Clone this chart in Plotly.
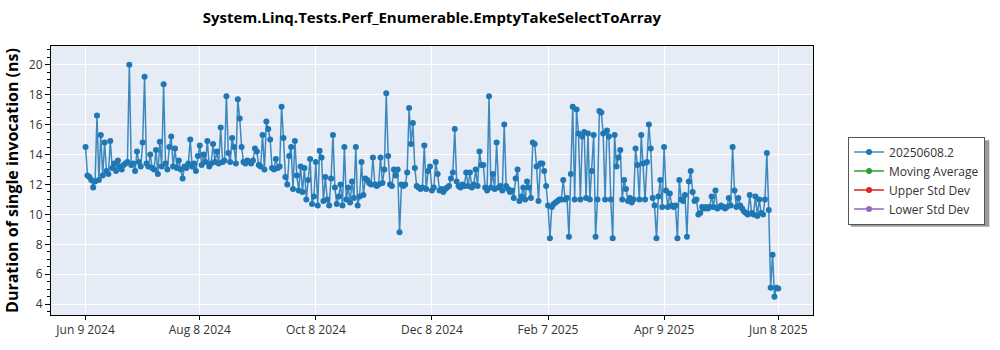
import pandas as pd
import plotly.graph_objects as go

# Daily benchmark results (ns per invocation), one list per month
series_name = "20250608.2"
start_date = "2024-06-09"

jun24 = [14.5, 12.6, 12.5, 12.3, 11.8, 12.2, 16.6, 12.3, 15.3, 12.6, 14.8, 12.9, 12.7, 14.9, 13.1, 13.4,
         12.9, 13.6, 13.2, 13.0, 13.3, 13.4]
jul24 = [13.5, 20.0, 13.3, 13.4, 12.9, 14.2, 13.5, 13.2, 14.8, 19.2, 13.4, 13.2, 14.0, 13.1, 13.0, 14.3,
         12.7, 14.85, 13.2, 18.7, 13.4, 13.0, 14.5, 15.2, 13.2, 14.4, 13.1, 13.6, 13.0, 12.4, 13.2]
aug24 = [13.1, 13.4, 15.0, 13.2, 13.4, 12.9, 13.9, 14.6, 13.3, 14.0, 13.5, 14.9, 13.2, 13.4, 14.7, 13.5,
         14.2, 13.4, 15.8, 13.5, 13.6, 17.9, 14.1, 13.5, 15.1, 14.5, 13.4, 17.7, 16.4, 14.5, 13.5]
sep24 = [13.4, 13.6, 13.5, 13.4, 13.6, 14.4, 14.2, 13.3, 13.2, 15.3, 13.0, 16.2, 15.7, 15.0, 13.1, 13.0,
         13.7, 13.1, 13.2, 17.2, 15.1, 12.5, 12.0, 13.9, 14.5, 11.7, 14.9, 12.6, 11.6, 13.2]
oct24 = [11.5, 13.1, 11.0, 12.3, 13.7, 10.7, 11.2, 13.5, 10.6, 14.25, 13.8, 10.9, 12.5, 11.0, 10.6, 12.4,
         15.3, 11.8, 10.7, 11.2, 12.0, 10.6, 14.5, 11.0, 11.8, 10.8, 12.2, 11.1, 14.5, 10.6, 11.2]
nov24 = [13.5, 11.3, 12.4, 12.3, 12.1, 12.0, 13.8, 12.0, 11.9, 12.0, 13.8, 12.1, 13.0, 18.1, 13.9, 12.0,
         11.9, 13.0, 12.6, 13.0, 8.8, 12.0, 11.9, 12.0, 12.8, 17.1, 14.7, 16.1, 13.1, 11.9]
dec24 = [11.8, 11.7, 11.8, 14.6, 11.7, 12.9, 13.2, 11.6, 11.8, 13.5, 12.7, 11.6, 11.7, 11.5, 11.7, 11.8,
         11.9, 12.4, 12.8, 15.7, 12.2, 11.9, 11.8, 12.0, 11.9, 12.8, 11.9, 12.8, 11.8, 12.0, 13.0]
jan25 = [11.9, 14.2, 13.3, 13.3, 11.8, 11.6, 17.9, 11.8, 12.7, 11.7, 14.8, 11.8, 11.9, 11.6, 16.0, 11.9,
         11.7, 11.5, 11.6, 11.1, 12.4, 13.0, 10.9, 11.2, 11.8, 11.0, 12.2, 11.8, 11.1, 14.8, 14.7]
feb25 = [13.2, 10.9, 13.4, 13.4, 12.9, 11.9, 10.6, 8.4, 10.5, 10.7, 10.8, 10.9, 11.0, 11.0, 12.3, 11.0,
         11.1, 8.5, 12.7, 17.2, 11.0, 17.0, 15.4, 11.0, 15.2, 15.5, 11.1, 15.4]
mar25 = [11.0, 12.9, 15.3, 8.5, 11.0, 16.9, 16.8, 15.4, 11.0, 15.6, 15.2, 11.0, 8.4, 15.3, 13.2, 13.8,
         14.3, 11.0, 12.3, 11.7, 10.9, 11.1, 10.8, 11.0, 14.4, 13.3, 11.0, 15.3, 13.4, 11.0, 13.5]
apr25 = [16.0, 14.4, 11.1, 10.6, 8.4, 11.2, 12.3, 10.5, 14.5, 11.6, 10.5, 11.4, 10.6, 10.5, 10.6, 8.4,
         12.3, 11.0, 10.9, 11.3, 8.5, 12.2, 12.9, 11.5, 10.9, 11.0, 10.0, 10.1, 10.5, 10.4]
may25 = [10.5, 10.4, 10.5, 11.2, 10.5, 11.6, 10.4, 10.5, 10.6, 10.5, 10.4, 10.5, 11.1, 10.6, 14.5, 11.6,
         10.5, 11.1, 10.6, 10.4, 10.2, 10.1, 10.0, 11.3, 10.1, 10.0, 11.2, 9.9, 11.0, 10.1, 10.0]
jun25 = [11.0, 14.1, 10.3, 5.1, 7.3, 4.5, 5.1, 5.05]

durations = (jun24 + jul24 + aug24 + sep24 + oct24 + nov24 + dec24
             + jan25 + feb25 + mar25 + apr25 + may25 + jun25)
run_dates = pd.date_range(start_date, periods=len(durations), freq="D")

tick_dates = ["2024-06-09", "2024-08-08", "2024-10-08", "2024-12-08",
              "2025-02-07", "2025-04-09", "2025-06-08"]
tick_labels = ["Jun 9 2024", "Aug 8 2024", "Oct 8 2024", "Dec 8 2024",
               "Feb 7 2025", "Apr 9 2025", "Jun 8 2025"]

stat_series = [("Moving Average", "#2ca02c"),
               ("Upper Std Dev", "#d62728"),
               ("Lower Std Dev", "#9467bd")]

fig = go.Figure()
fig.add_trace(go.Scatter(
    x=run_dates, y=durations, mode="lines+markers", name=series_name,
    line=dict(color="rgba(31,119,180,0.85)", width=1.5),
    marker=dict(color="#1f77b4", size=6),
))
# statistics series carry no values yet; a single empty point keeps them in the legend
for name, color in stat_series:
    fig.add_trace(go.Scatter(
        x=[run_dates[0]], y=[None], mode="lines+markers", name=name,
        line=dict(color=color, width=1.5),
        marker=dict(color=color, size=6),
    ))

fig.update_layout(
    width=1000, height=350,
    margin=dict(l=48, r=187, t=46, b=30),
    paper_bgcolor="white", plot_bgcolor="#E5ECF6",
    font=dict(family="Open Sans", size=12, color="#333"),
    title=dict(
        text="<b>System.Linq.Tests.Perf_Enumerable.EmptyTakeSelectToArray</b>",
        x=0.5, xref="paper", xanchor="center",
        y=1 - 18 / 350, yref="container", yanchor="middle",
        font=dict(size=15, color="black"),
    ),
    legend=dict(
        x=1.046, xanchor="left", y=0.5, yanchor="middle",
        bordercolor="#555", borderwidth=1, bgcolor="white",
        font=dict(size=12, color="#333"),
    ),
    showlegend=True,
    # drop shadow behind the legend box
    shapes=[dict(
        type="rect", xref="paper", yref="paper", layer="below",
        x0=1.0497, x1=1.2314, y0=0.3285, y1=0.6496,
        fillcolor="#9a9a9a", line=dict(width=0),
    )],
)

fig.update_xaxes(
    type="date",
    range=["2024-05-21 20:00", "2025-06-26 06:00"],
    tickvals=tick_dates, ticktext=tick_labels,
    showline=True, linecolor="black", linewidth=1, mirror=True,
    gridcolor="white", gridwidth=1, zeroline=False,
    ticks="outside", ticklen=4, tickcolor="black",
    tickfont=dict(size=12, color="#333"),
)
fig.update_yaxes(
    range=[3.28, 21.25], dtick=2, tick0=0,
    title=dict(text="<b>Duration of single invocation (ns)</b>",
               font=dict(size=16, color="black"), standoff=6),
    showline=True, linecolor="black", linewidth=1, mirror=True,
    gridcolor="white", gridwidth=1, zeroline=False,
    ticks="outside", ticklen=5, tickcolor="black",
    minor=dict(dtick=0.5, ticks="outside", ticklen=3, tickcolor="black", showgrid=False),
    tickfont=dict(size=12, color="#333"),
)

fig.write_html("out.html")
